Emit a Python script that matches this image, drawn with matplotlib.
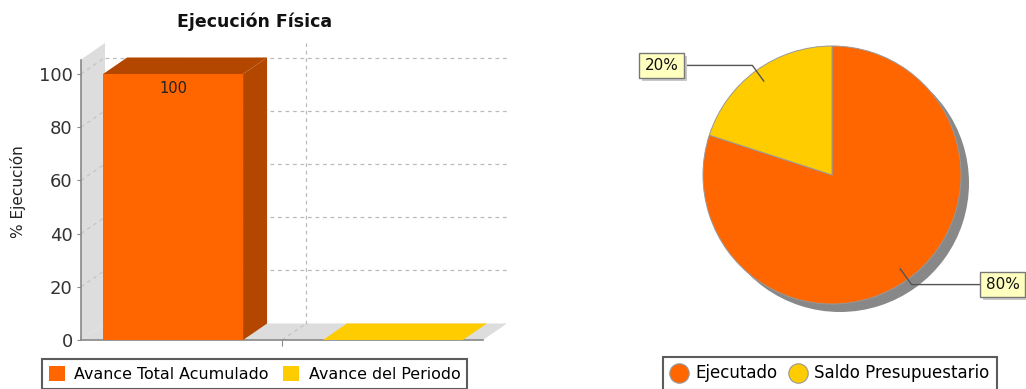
import matplotlib
matplotlib.use("Agg")
import matplotlib.pyplot as plt
import numpy as np
from matplotlib.patches import Polygon, Rectangle
from matplotlib.lines import Line2D

# bar chart data
bar_title = "Ejecución Física"
bar_ylabel = "% Ejecución"
bar_series = ["Avance Total Acumulado", "Avance del Periodo"]
bar_values = [100, 0]
bar_colors = ["#FF6600", "#FFCC00"]
bar_yticks = [0, 20, 40, 60, 80, 100]

# pie chart data
pie_labels = ["Ejecutado", "Saldo Presupuestario"]
pie_values = [80, 20]
pie_colors = ["#FF6600", "#FFCC00"]

W, H = 1026, 389
fig = plt.figure(figsize=(W / 100, H / 100), dpi=100)
fig.patch.set_facecolor("white")


def px_box(x0, y0, x1, y1):
    # pixel box (top-left origin) -> figure fraction rect
    return [x0 / W, 1 - y1 / H, (x1 - x0) / W, (y1 - y0) / H]


def darker(c, f=0.7):
    r, g, b = matplotlib.colors.to_rgb(c)
    return (r * f, g * f, b * f)


# ---------- 3D bar chart ----------
front_w = 402.0            # pixel length of the category axis
ppu = 2.66                 # pixels per value unit
dx = 24 / front_w          # depth offset in x (data units)
dy = 16.5 / ppu            # depth offset in y (data units)
ytop = (340 - 43) / ppu

ax = fig.add_axes(px_box(81, 43, 81 + front_w + 24, 340))
ax.set_xlim(0, 1 + dx)
ax.set_ylim(0, ytop)
ax.set_facecolor("none")
for s in ["top", "right"]:
    ax.spines[s].set_visible(False)
wall = "#DDDDDD"
axis_c = "#888888"

# left wall and floor
ax.add_patch(Polygon([(0, 0), (dx, dy), (dx, ytop), (0, ytop - dy)],
                     closed=True, fc=wall, ec="none", zorder=1))
ax.add_patch(Polygon([(0, 0), (1, 0), (1 + dx, dy), (dx, dy)],
                     closed=True, fc=wall, ec="none", zorder=1))

# gridlines on back wall and side wall
for v in bar_yticks[1:]:
    ax.plot([dx, 1 + dx], [v + dy, v + dy], ls=(0, (3, 3)), color="#BBBBBB",
            lw=0.9, zorder=1.5)
    ax.plot([0, dx], [v, v + dy], ls=(0, (3, 3)), color="#C4C4C4", lw=0.9,
            zorder=1.5)
ax.plot([0.5 + dx, 0.5 + dx], [dy, ytop], ls=(0, (3, 3)), color="#BBBBBB",
        lw=0.9, zorder=1.5)
ax.plot([0.5, 0.5 + dx], [0, dy], ls=(0, (3, 3)), color="#C4C4C4", lw=0.9,
        zorder=1.5)

# bars laid out like a category axis with margins
lower_m, upper_m, item_m = 0.055, 0.05, 0.222
avail = 1 - lower_m - upper_m
bw = avail * (1 - item_m) / len(bar_values)
gap = avail * item_m / (len(bar_values) - 1)
for i, (v, c) in enumerate(zip(bar_values, bar_colors)):
    x0 = lower_m + i * (bw + gap)
    if v > 0:
        ax.add_patch(Rectangle((x0, 0), bw, v, fc=c, ec="none", zorder=3))
        ax.add_patch(Polygon([(x0 + bw, 0), (x0 + bw + dx, dy),
                              (x0 + bw + dx, v + dy), (x0 + bw, v)],
                             fc=darker(c), ec="none", zorder=3))
        ax.add_patch(Polygon([(x0, v), (x0 + dx, v + dy),
                              (x0 + bw + dx, v + dy), (x0 + bw, v)],
                             fc=darker(c), ec="none", zorder=3))
        ax.text(x0 + bw / 2, v - 2.5, f"{v:g}", ha="center", va="top",
                fontsize=10.5, color="#222222", zorder=4)
    else:
        ax.add_patch(Polygon([(x0, v), (x0 + dx, v + dy),
                              (x0 + bw + dx, v + dy), (x0 + bw, v)],
                             fc=c, ec="none", zorder=3))

ax.spines["left"].set_bounds(0, ytop - dy)
ax.spines["bottom"].set_bounds(0, 1)
ax.spines["left"].set_color(axis_c)
ax.spines["bottom"].set_color(axis_c)
ax.spines["left"].set_linewidth(1.2)
ax.spines["bottom"].set_linewidth(1.2)
ax.set_yticks(bar_yticks)
ax.set_yticklabels([str(t) for t in bar_yticks])
ax.set_xticks([0.5])
ax.set_xticklabels([""])
ax.tick_params(axis="y", labelsize=13, color=axis_c, length=3, pad=3,
               labelcolor="#333333")
ax.tick_params(axis="x", color=axis_c, length=4)
ax.set_ylabel(bar_ylabel, fontsize=11, labelpad=9, color="#222222")
fig.text(255 / W, 1 - 22 / H, bar_title, ha="center", va="center",
         fontsize=12.5, fontweight="bold", color="#111111")

bar_handles = [Rectangle((0, 0), 1, 1, fc=c, ec="none") for c in bar_colors]
leg1 = fig.legend(bar_handles, bar_series, loc="upper left",
                  bbox_to_anchor=(42 / W, 1 - 359 / H), ncol=2, fontsize=11.4,
                  frameon=True, fancybox=False, handlelength=1.0,
                  handleheight=1.1, handletextpad=0.6, columnspacing=0.9,
                  borderpad=0.45, borderaxespad=0)
leg1.get_frame().set_edgecolor("#333333")
leg1.get_frame().set_linewidth(1.5)

# ---------- pie chart ----------
pax = fig.add_axes([0, 0, 1, 1])
pax.set_zorder(-1)
cx, cy, r = 832, H - 175, 129
shadow_off = 8

pax.pie(pie_values, colors=["#888888"] * len(pie_values), startangle=90,
        counterclock=False, radius=r, center=(cx + shadow_off, cy - shadow_off),
        frame=True, wedgeprops=dict(linewidth=0))
wedges, _ = pax.pie(pie_values, colors=pie_colors, startangle=90,
                    counterclock=False, radius=r, center=(cx, cy), frame=True,
                    wedgeprops=dict(linewidth=0.7, edgecolor="#999999"))
pax.set_xlim(0, W)
pax.set_ylim(0, H)
pax.set_aspect("auto")
pax.set_axis_off()

total = sum(pie_values)
label_cx = {1: 661.5, -1: 1002.5}
box_half = 20
labels = []
for w, v in zip(wedges, pie_values):
    mid = np.deg2rad((w.theta1 + w.theta2) / 2)
    ux, uy = np.cos(mid), np.sin(mid)
    ax0, ay0 = cx + 0.9 * r * ux, cy + 0.9 * r * uy
    ex, ey = cx + 1.05 * r * ux, cy + 1.05 * r * uy
    side = 1 if ux < 0 else -1
    bx = label_cx[side]
    pax.plot([ax0, ex, bx + side * box_half], [ay0, ey, ey], color="#555555",
             lw=1.0, zorder=5)
    t = pax.text(bx, ey, f"{v / total:.0%}", ha="center", va="center",
                 fontsize=11, color="#111111", zorder=6,
                 bbox=dict(boxstyle="square,pad=0.34", fc="#FFFFC0",
                           ec="#777777", lw=1.0))
    labels.append(t)

# drop shadows behind the label boxes (pax data units are pixels)
fig.canvas.draw()
for t in labels:
    bb = t.get_bbox_patch().get_window_extent()
    pax.add_patch(Rectangle((bb.x0 + 3, bb.y0 - 3), bb.width, bb.height,
                            fc="#C8C8C8", ec="none", zorder=5.5))

pie_handles = [Line2D([], [], marker="o", ls="none", markersize=14,
                      markerfacecolor=c, markeredgecolor="#999999",
                      markeredgewidth=0.8) for c in pie_colors]
leg2 = fig.legend(pie_handles, pie_labels, loc="upper left",
                  bbox_to_anchor=(663 / W, 1 - 357 / H), ncol=2, fontsize=12,
                  frameon=True, fancybox=False, handlelength=1.0,
                  handletextpad=0.5, columnspacing=0.7, borderpad=0.45,
                  borderaxespad=0)
leg2.get_frame().set_edgecolor("#333333")
leg2.get_frame().set_linewidth(1.5)

fig.savefig("out.png", dpi=100)
